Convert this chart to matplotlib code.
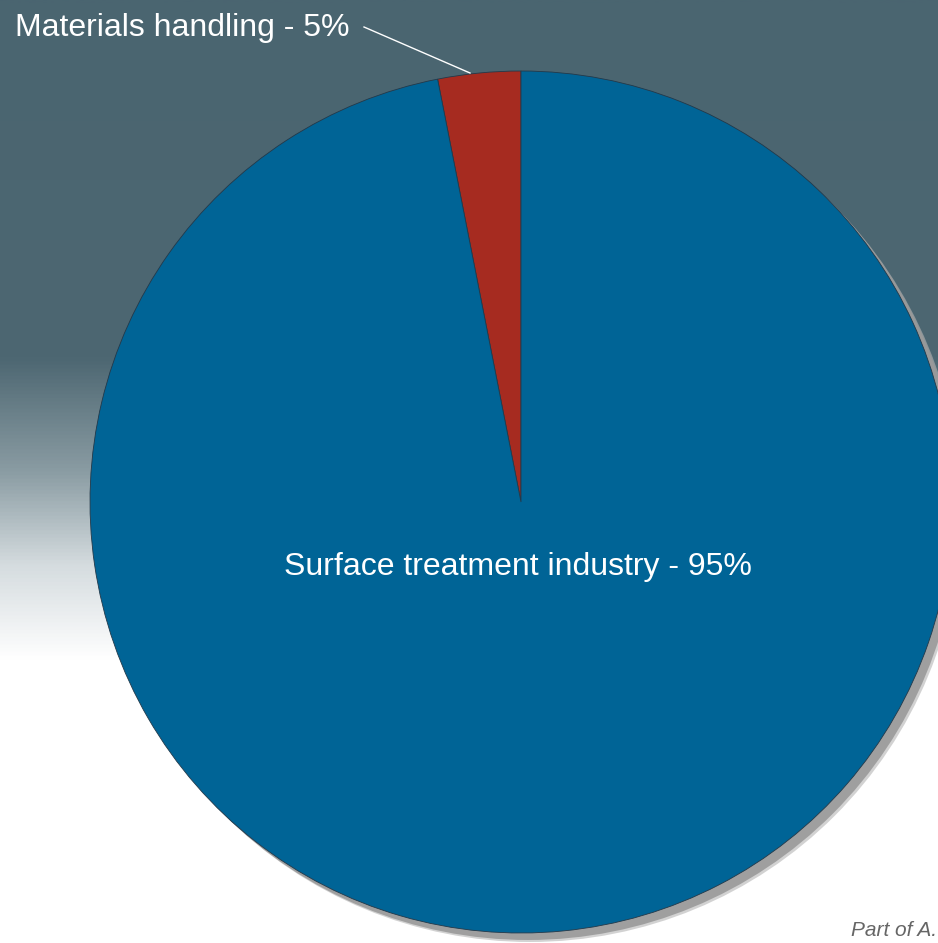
import numpy as np
import matplotlib.pyplot as plt
from matplotlib.patches import Circle
from matplotlib.colors import LinearSegmentedColormap

# === DATA ===
categories = ["Materials handling", "Surface treatment industry"]
shares = [3.1, 96.9]          # slice sizes as drawn in the picture
labels = ["Materials handling - 5%", "Surface treatment industry - 95%"]
colors = ["#a62b20", "#006496"]

W, H = 938, 943
plt.rcParams["font.family"] = ["Liberation Sans", "DejaVu Sans"]

fig = plt.figure(figsize=(W / 100, H / 100), dpi=100)
ax = fig.add_axes([0, 0, 1, 1])

# === Background: slate grey top fading to white ===
bg = LinearSegmentedColormap.from_list(
    "bg", [(0.0, "#4a6570"), (0.38, "#4d6772"), (0.50, "#8a9ca3"),
           (0.60, "#d5dcdf"), (0.70, "#ffffff"), (1.0, "#ffffff")])
grad = np.linspace(0, 1, 512).reshape(-1, 1)
ax.imshow(grad, cmap=bg, extent=[0, W, 0, H], origin="upper", aspect="auto", zorder=0)

cx, cy, r = 521, H - 502, 431

# === Shadow ===
ax.add_patch(Circle((cx + 9, cy - 9), r, color="#b5b5b5", alpha=0.6, lw=0, zorder=1))
ax.add_patch(Circle((cx + 7, cy - 7), r, color="#9a9a9a", alpha=0.9, lw=0, zorder=1))

# === Pie ===
wedges, _ = ax.pie(shares, colors=colors, startangle=90, counterclock=True,
                   center=(cx, cy), radius=r, frame=True,
                   wedgeprops=dict(edgecolor="#23394a", linewidth=0.6))
for w in wedges:
    w.set_zorder(2)
ax.set_xlim(0, W)
ax.set_ylim(0, H)
ax.set_aspect("auto")
ax.axis("off")

# === Labels ===
ax.text(15, H - 28, labels[0], color="white", fontsize=23, ha="left", va="center", zorder=3)
ax.plot([364, 470], [H - 27, H - 73], color="white", lw=1, zorder=3)
ax.text(518, H - 567, labels[1], color="white", fontsize=23, ha="center", va="center", zorder=3)

ax.text(851, H - 931, "Part of A.", color="#666666", fontsize=15, style="italic",
        ha="left", va="center", zorder=3, clip_on=False)

fig.savefig("out.png", dpi=100)
